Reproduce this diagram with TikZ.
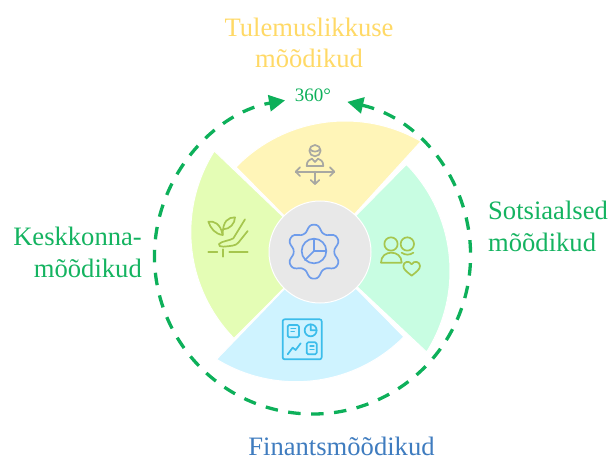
\documentclass[tikz,border=0pt]{standalone}
\usepackage{fontspec}
\setmainfont{Liberation Serif}
\usetikzlibrary{arrows.meta}
\definecolor{ringgreen}{HTML}{0DB05A}
\definecolor{labgreen}{HTML}{14B360}
\definecolor{labyellow}{HTML}{FFD966}
\definecolor{labblue}{HTML}{3F7CBF}
\definecolor{secyellow}{HTML}{FFF5B8}
\definecolor{secmint}{HTML}{C8FDE2}
\definecolor{secblue}{HTML}{CFF3FF}
\definecolor{seclime}{HTML}{E4FDB5}
\definecolor{hubgrey}{HTML}{E8E8E8}
\definecolor{icogear}{HTML}{6E9CEB}
\definecolor{icogrey}{HTML}{A8A8A2}
\definecolor{icolime}{HTML}{A6C64E}
\definecolor{icoblue}{HTML}{3CBDEB}
\tikzset{
  x=1pt,y=1pt,
  sector/.style={draw=white,line width=1pt,line join=round},
  hub/.style={circle,fill=hubgrey,draw=white,line width=1pt,minimum size=102pt,inner sep=0pt},
  ring/.style={draw=ringgreen,line width=3.3pt,dash pattern=on 12.5pt off 10.5pt,
    {Triangle[length=16pt,width=16pt]}-{Triangle[length=16pt,width=16pt]}},
  lab/.style={font=\fontsize{26.6}{31.5}\selectfont,inner sep=0pt},
  icon/.style={line width=1.7pt,line cap=round,line join=round},
  iconscope/.style={shift={(180,349)},xscale=1/3,yscale=-1/3}
}
\begin{document}
\begin{tikzpicture}[declare function={gc(\t)=cos(6*(\t-90));gr(\t)=71+10*(1.35*gc(\t)-0.35*gc(\t)*gc(\t)*gc(\t));}]
\useasboundingbox (0,0) rectangle (611,459);
\coordinate (C) at (320,207);
% sectors
\fill[secyellow,sector] (C) -- ([shift={(135.8:152)}]345,186) arc[start angle=135.8,end angle=60,radius=152] -- cycle;
\fill[secmint,sector] (C) -- ([shift={(44.5:152)}]298,188) arc[start angle=44.5,end angle=-32.2,radius=152] -- cycle;
\fill[secblue,sector] (C) -- ([shift={(-44.8:152)}]296,229.3) arc[start angle=-44.8,end angle=-121.5,radius=152] -- cycle;
\fill[seclime,sector] (C) -- ([shift={(147.7:152)}]342.8,226.8) arc[start angle=147.7,end angle=224.3,radius=152] -- cycle;
\node[hub] (hub) at (C) {};
% dashed ring
\coordinate (ringstart) at ([shift={(77.3:158)}]312.5,203);
\draw[ring] (ringstart) arc[start angle=77.3,end angle=-260,radius=158];
% labels
\node[lab,text=labyellow,align=center,anchor=base] (tul) at (309,391) {Tulemuslikkuse\\mõõdikud};
\node[lab,text=labgreen,align=right,anchor=base east] (kes) at (142,182) {Keskkonna-\\mõõdikud};
\node[lab,text=labgreen,align=left,anchor=base west] (sot) at (488,208) {Sotsiaalsed\\mõõdikud};
\node[lab,text=labblue,anchor=base] (fin) at (341.5,4) {Finantsmõõdikud};
\node[text=ringgreen,font=\fontsize{19}{22}\selectfont,inner sep=0pt,anchor=base] (deg) at (313,357) {360°};
% icons
\begin{scope}[iconscope]
% gear
\draw[icon,icogear] plot[smooth cycle,domain=0:356,samples=90,variable=\t] ({402+gr(\t)*cos(\t)},{425+gr(\t)*sin(\t)});
\draw[icon,icogear] (402,423) circle[radius=37];
\draw[icon,icogear] (402,388) -- (402,423) -- (438,423) (402,423) -- (375,450);
% person with arrows
\draw[icon,icogrey] (405,122) circle[radius=17];
\draw[icon,icogrey] (390,118) .. controls (398,127) and (412,127) .. (420,118);
\draw[icon,icogrey] (380,168) .. controls (380,152) and (390,148) .. (396,146) -- (405,156) -- (414,146) .. controls (420,148) and (430,152) .. (430,168) -- cycle;
\draw[icon,icogrey] (347,185) -- (463,185) (405,185) -- (405,222);
\draw[icon,icogrey] (360,172) -- (347,185) -- (360,198) (450,172) -- (463,185) -- (450,198) (392,210) -- (405,222) -- (418,210);
% plant and hand
\draw[icon,icolime] (85,427) -- (112,427) (148,427) -- (203,427) (128,418) -- (128,440);
\draw[icon,icolime] (85,335) .. controls (100,332) and (122,340) .. (128,375) .. controls (105,372) and (92,355) .. (85,335) -- cycle;
\draw[icon,icolime] (165,322) .. controls (145,322) and (128,332) .. (128,375) (165,322) .. controls (165,340) and (150,358) .. (129,358);
\draw[icon,icolime] (195,328) -- (160,385) .. controls (150,392) and (125,393) .. (117,402) .. controls (114,408) and (122,410) .. (130,410) .. controls (150,408) and (168,408) .. (175,398) -- (203,363);
% people and heart
\draw[icon,icolime] (633,402) circle[radius=20] (682,402) circle[radius=20];
\draw[icon,icolime] (603,458) .. controls (603,438) and (618,428) .. (634,428) .. controls (650,428) and (665,438) .. (665,458) -- cycle;
\draw[icon,icolime] (665,428) .. controls (675,436) and (690,436) .. (700,428);
\draw[icon,icolime] (695,497) .. controls (680,485) and (670,478) .. (670,468) .. controls (670,455) and (688,450) .. (695,463) .. controls (702,450) and (720,455) .. (720,468) .. controls (720,478) and (710,485) .. (695,497) -- cycle;
% dashboard
\draw[icon,icoblue,rounded corners=2pt] (308,628) rectangle (425,748);
\draw[icon,icoblue,rounded corners=1.5pt] (323,645) rectangle (357,682) (380,697) rectangle (410,733);
\draw[icon,icoblue,line width=1.3pt] (333,655) -- (347,655) (333,665) -- (343,665) (390,708) -- (402,708) (390,718) -- (402,718);
\draw[icon,icoblue] (392,661) circle[radius=18] (392,643) -- (392,661) -- (410,661);
\draw[icon,icoblue] (323,733) -- (338,713) -- (347,720) -- (362,700);
\end{scope}
\end{tikzpicture}
\end{document}
